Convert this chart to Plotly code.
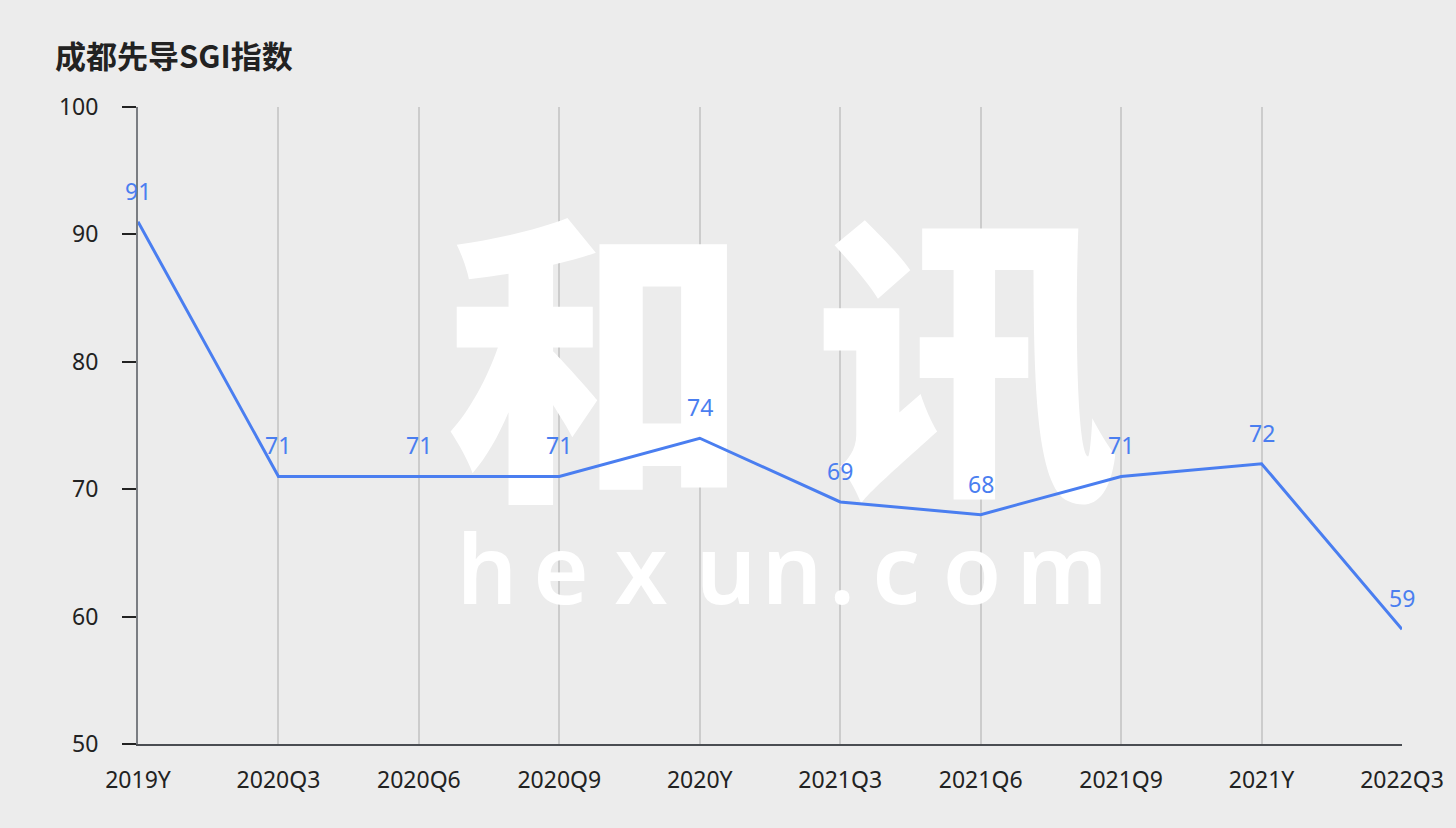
import plotly.graph_objects as go

categories = ["2019Y", "2020Q3", "2020Q6", "2020Q9", "2020Y", "2021Q3", "2021Q6", "2021Q9", "2021Y", "2022Q3"]
values = [91, 71, 71, 71, 74, 69, 68, 71, 72, 59]
y_ticks = [50, 60, 70, 80, 90, 100]

# watermark glyphs (decoration)
wm_big = ["和", "讯"]
wm_small = list("hexun.com")

FONT = "Noto Sans, Open Sans, sans-serif"
CJK = "Noto Sans CJK SC"
BLUE = "#4a7ef0"
idx = list(range(len(categories)))


def px_to_x(px):
    return (px - 138) / 1264 * (len(categories) - 1)


def px_to_y(py):
    return 100 - (py - 107) / 637 * 50


fig = go.Figure()

# watermark (drawn first so it sits behind the line)
fig.add_trace(go.Scatter(
    x=[px_to_x(597), px_to_x(967)], y=[px_to_y(400)] * 2, mode="text", text=wm_big,
    textfont=dict(size=305, color="white", family=CJK, weight=900),
    cliponaxis=False, hoverinfo="skip"
))
small_px = [487, 561, 641, 726, 792, 842, 896, 972, 1062]
fig.add_trace(go.Scatter(
    x=[px_to_x(p) for p in small_px], y=[px_to_y(580)] * len(small_px), mode="text", text=wm_small,
    textfont=dict(size=95, color="white", family=FONT, weight=600),
    cliponaxis=False, hoverinfo="skip"
))

fig.add_trace(go.Scatter(
    x=idx, y=values, mode="lines",
    line=dict(color=BLUE, width=3),
    cliponaxis=False, hoverinfo="skip"
))

for i, v in zip(idx, values):
    fig.add_annotation(x=i, y=v, text=str(v), showarrow=False, yshift=31,
                       font=dict(size=23, color=BLUE, family=FONT))

fig.update_layout(
    width=1456, height=828,
    paper_bgcolor="#ececec", plot_bgcolor="#ececec",
    margin=dict(l=138, r=54, t=107, b=84),
    showlegend=False,
    font=dict(family=FONT, color="#222222"),
    title=dict(text="<b>成都先导SGI指数</b>", x=55 / 1456, xanchor="left", y=1 - 57 / 828, yanchor="middle",
               font=dict(size=31, color="#222222", family=CJK)),
)
fig.update_xaxes(
    range=[0, len(categories) - 1], tickvals=idx, ticktext=categories,
    showgrid=True, gridcolor="#cccccc", gridwidth=1.5,
    showline=True, linecolor="#4a4d52", linewidth=2,
    ticks="", tickfont=dict(size=23, color="#222222"), ticklabelstandoff=14,
    zeroline=False,
)
fig.update_yaxes(
    range=[50, 100], tickvals=y_ticks,
    showgrid=False, zeroline=False,
    showline=True, linecolor="#7a7d82", linewidth=2,
    ticks="outside", ticklen=14, tickwidth=2, tickcolor="#222222",
    tickfont=dict(size=23, color="#222222"), ticklabelstandoff=19,
)

fig.write_html("out.html", config={"displayModeBar": False},
               post_script="document.body.style.margin='0';")
